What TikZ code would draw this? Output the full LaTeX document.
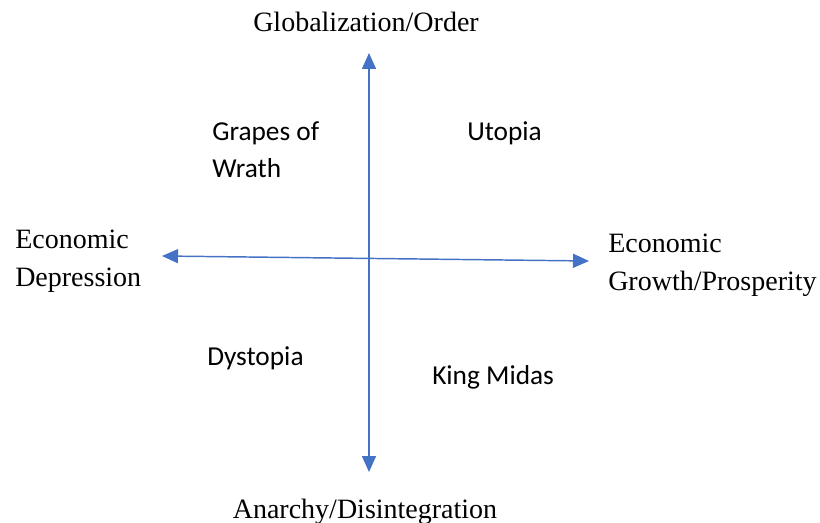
\documentclass[tikz,border=0pt]{standalone}
\usepackage{fontspec}
\setmainfont{Liberation Serif}
\newfontfamily\quadfont{Carlito}
\usetikzlibrary{arrows.meta}
\definecolor{axisblue}{HTML}{4472C4}
\tikzset{
    axislabel/.style={inner sep=0pt, align=left, font=\fontsize{21}{28.5}\selectfont},
    quadlabel/.style={inner sep=0pt, align=left, font=\quadfont\fontsize{20.5}{27.75}\selectfont},
    axis/.style={draw=axisblue, line width=1.1pt, {Triangle[length=12pt, width=10.5pt]}-{Triangle[length=12pt, width=10.5pt]}}
}
\begin{document}
\begin{tikzpicture}[x=0.75pt, y=-0.75pt]
    \useasboundingbox (0,0) rectangle (820,523);

    % Axis ends
    \coordinate (top) at (369,53);
    \coordinate (bottom) at (369,472);
    \coordinate (left) at (162,256);
    \coordinate (right) at (589,261);

    % Axes
    \draw[axis] (bottom) -- (top);
    \draw[axis] (left) -- (right);

    % Axis labels
    \node[axislabel, anchor=base] (order) at (366,32) {Globalization/Order};
    \node[axislabel, anchor=base] (anarchy) at (365,518) {Anarchy/Disintegration};
    \node[axislabel, anchor=base west] (depression) at (15,287) {Economic\\Depression};
    \node[axislabel, anchor=base west] (growth) at (608,291) {Economic\\Growth/Prosperity};

    % Quadrants
    \node[quadlabel, anchor=base west] (grapes) at (212,178) {Grapes of\\Wrath};
    \node[quadlabel, anchor=base west] (utopia) at (467,141) {Utopia};
    \node[quadlabel, anchor=base west] (dystopia) at (207,366) {Dystopia};
    \node[quadlabel, anchor=base west] (midas) at (432,384) {King Midas};

\end{tikzpicture}
\end{document}
